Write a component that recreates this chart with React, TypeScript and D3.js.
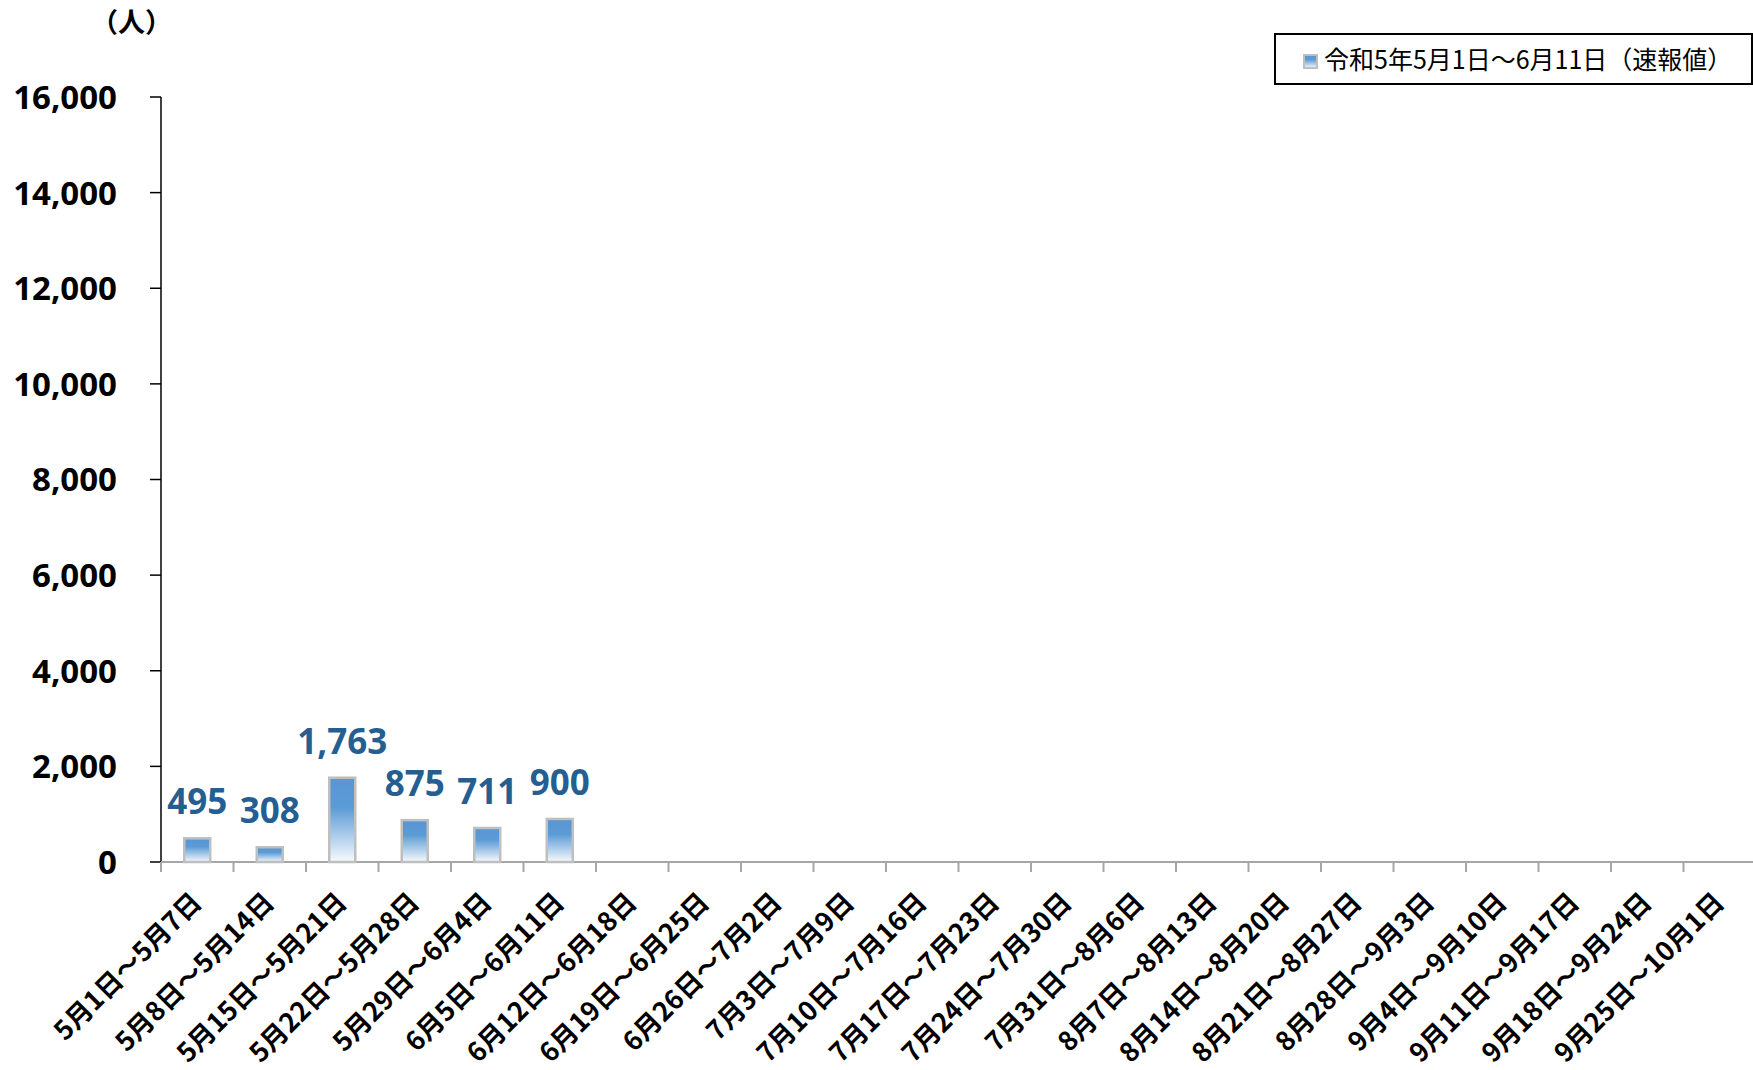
import React, { useEffect, useRef } from "react";
import * as d3 from "d3";

const categories = [
  "5月1日～5月7日",
  "5月8日～5月14日",
  "5月15日～5月21日",
  "5月22日～5月28日",
  "5月29日～6月4日",
  "6月5日～6月11日",
  "6月12日～6月18日",
  "6月19日～6月25日",
  "6月26日～7月2日",
  "7月3日～7月9日",
  "7月10日～7月16日",
  "7月17日～7月23日",
  "7月24日～7月30日",
  "7月31日～8月6日",
  "8月7日～8月13日",
  "8月14日～8月20日",
  "8月21日～8月27日",
  "8月28日～9月3日",
  "9月4日～9月10日",
  "9月11日～9月17日",
  "9月18日～9月24日",
  "9月25日～10月1日",
];
const values = [495, 308, 1763, 875, 711, 900];
const yTicks = [0, 2000, 4000, 6000, 8000, 10000, 12000, 14000, 16000];
const unitLabel = "（人）";
const legendLabel = "令和5年5月1日～6月11日（速報値）";

const W = 1753;
const H = 1070;
const cjk = "'Noto Sans CJK JP', 'Noto Sans', sans-serif";
const num = "'Noto Sans', 'Open Sans', sans-serif";

export default function App() {
  const ref = useRef<SVGSVGElement | null>(null);

  useEffect(() => {
    document.body.style.margin = "0";
    document.body.style.overflow = "hidden";
    const svg = d3.select(ref.current);
    svg.selectAll("*").remove();

    const left = 161;
    const step = 72.5;
    const x = d3
      .scaleBand()
      .domain(categories)
      .range([left, left + step * categories.length])
      .padding(0);
    const y = d3.scaleLinear().domain([0, 16000]).range([862, 97]);
    const barW = 26;

    const defs = svg.append("defs");
    const grad = defs
      .append("linearGradient")
      .attr("id", "barGrad")
      .attr("x1", 0)
      .attr("y1", 0)
      .attr("x2", 0)
      .attr("y2", 1);
    grad.append("stop").attr("offset", "0%").attr("stop-color", "#5896d4");
    grad.append("stop").attr("offset", "35%").attr("stop-color", "#5b9bd5");
    grad.append("stop").attr("offset", "100%").attr("stop-color", "#f7fafd");

    // y axis
    svg
      .append("line")
      .attr("x1", left)
      .attr("x2", left)
      .attr("y1", y(16000))
      .attr("y2", y(0))
      .attr("stroke", "#000")
      .attr("stroke-width", 1.5);
    const yt = svg
      .append("g")
      .selectAll("g")
      .data(yTicks)
      .enter()
      .append("g");
    yt.append("line")
      .attr("x1", left - 11)
      .attr("x2", left)
      .attr("y1", (d) => y(d))
      .attr("y2", (d) => y(d))
      .attr("stroke", "#000")
      .attr("stroke-width", 1.5);
    yt.append("text")
      .attr("x", 117)
      .attr("y", (d) => y(d))
      .attr("dy", "0.36em")
      .attr("text-anchor", "end")
      .attr("font-family", num)
      .attr("font-weight", 700)
      .attr("font-size", 33)
      .attr("fill", "#000")
      .text((d) => d3.format(",")(d));

    // x axis
    svg
      .append("line")
      .attr("x1", left)
      .attr("x2", W)
      .attr("y1", y(0))
      .attr("y2", y(0))
      .attr("stroke", "#a6a6a6")
      .attr("stroke-width", 2);
    svg
      .append("g")
      .selectAll("line")
      .data(d3.range(categories.length + 1))
      .enter()
      .append("line")
      .attr("x1", (i) => left + i * x.step())
      .attr("x2", (i) => left + i * x.step())
      .attr("y1", y(0))
      .attr("y2", y(0) + 10)
      .attr("stroke", "#a6a6a6")
      .attr("stroke-width", 2);
    svg
      .append("g")
      .selectAll("text")
      .data(categories)
      .enter()
      .append("text")
      .attr("transform", (d) => {
        const cx = (x(d) as number) + x.bandwidth() / 2;
        return `translate(${cx + 6}, 904) rotate(-45)`;
      })
      .attr("text-anchor", "end")
      .attr("font-family", cjk)
      .attr("font-weight", 700)
      .attr("font-size", 26.5)
      .attr("fill", "#000")
      .text((d) => d);

    // bars
    const bars = svg
      .append("g")
      .selectAll("g")
      .data(values)
      .enter()
      .append("g");
    bars
      .append("rect")
      .attr("x", (d, i) => (x(categories[i]) as number) + x.bandwidth() / 2 - barW / 2)
      .attr("y", (d) => y(d))
      .attr("width", barW)
      .attr("height", (d) => y(0) - y(d))
      .attr("fill", "url(#barGrad)")
      .attr("stroke", "#bfbfbf")
      .attr("stroke-width", 2.5);
    bars
      .append("text")
      .attr("x", (d, i) => (x(categories[i]) as number) + x.bandwidth() / 2)
      .attr("y", (d) => y(d) - 24)
      .attr("text-anchor", "middle")
      .attr("font-family", num)
      .attr("font-weight", 700)
      .attr("font-size", 35)
      .attr("fill", "#255e91")
      .text((d) => d3.format(",")(d));

    // unit label
    svg
      .append("text")
      .attr("x", 91)
      .attr("y", 32)
      .attr("font-family", cjk)
      .attr("font-weight", 700)
      .attr("font-size", 27)
      .attr("fill", "#000")
      .text(unitLabel);

    // legend
    const lg = svg.append("g");
    lg.append("rect")
      .attr("x", 1275)
      .attr("y", 34)
      .attr("width", 477)
      .attr("height", 50)
      .attr("fill", "#fff")
      .attr("stroke", "#000")
      .attr("stroke-width", 2);
    lg.append("rect")
      .attr("x", 1304)
      .attr("y", 55)
      .attr("width", 13)
      .attr("height", 13)
      .attr("fill", "url(#barGrad)")
      .attr("stroke", "#bfbfbf")
      .attr("stroke-width", 2);
    lg.append("text")
      .attr("x", 1324)
      .attr("y", 69)
      .attr("font-family", cjk)
      .attr("font-size", 25)
      .attr("fill", "#000")
      .text(legendLabel);
  }, []);

  return <svg ref={ref} width={W} height={H} style={{ display: "block", background: "#fff" }} />;
}
